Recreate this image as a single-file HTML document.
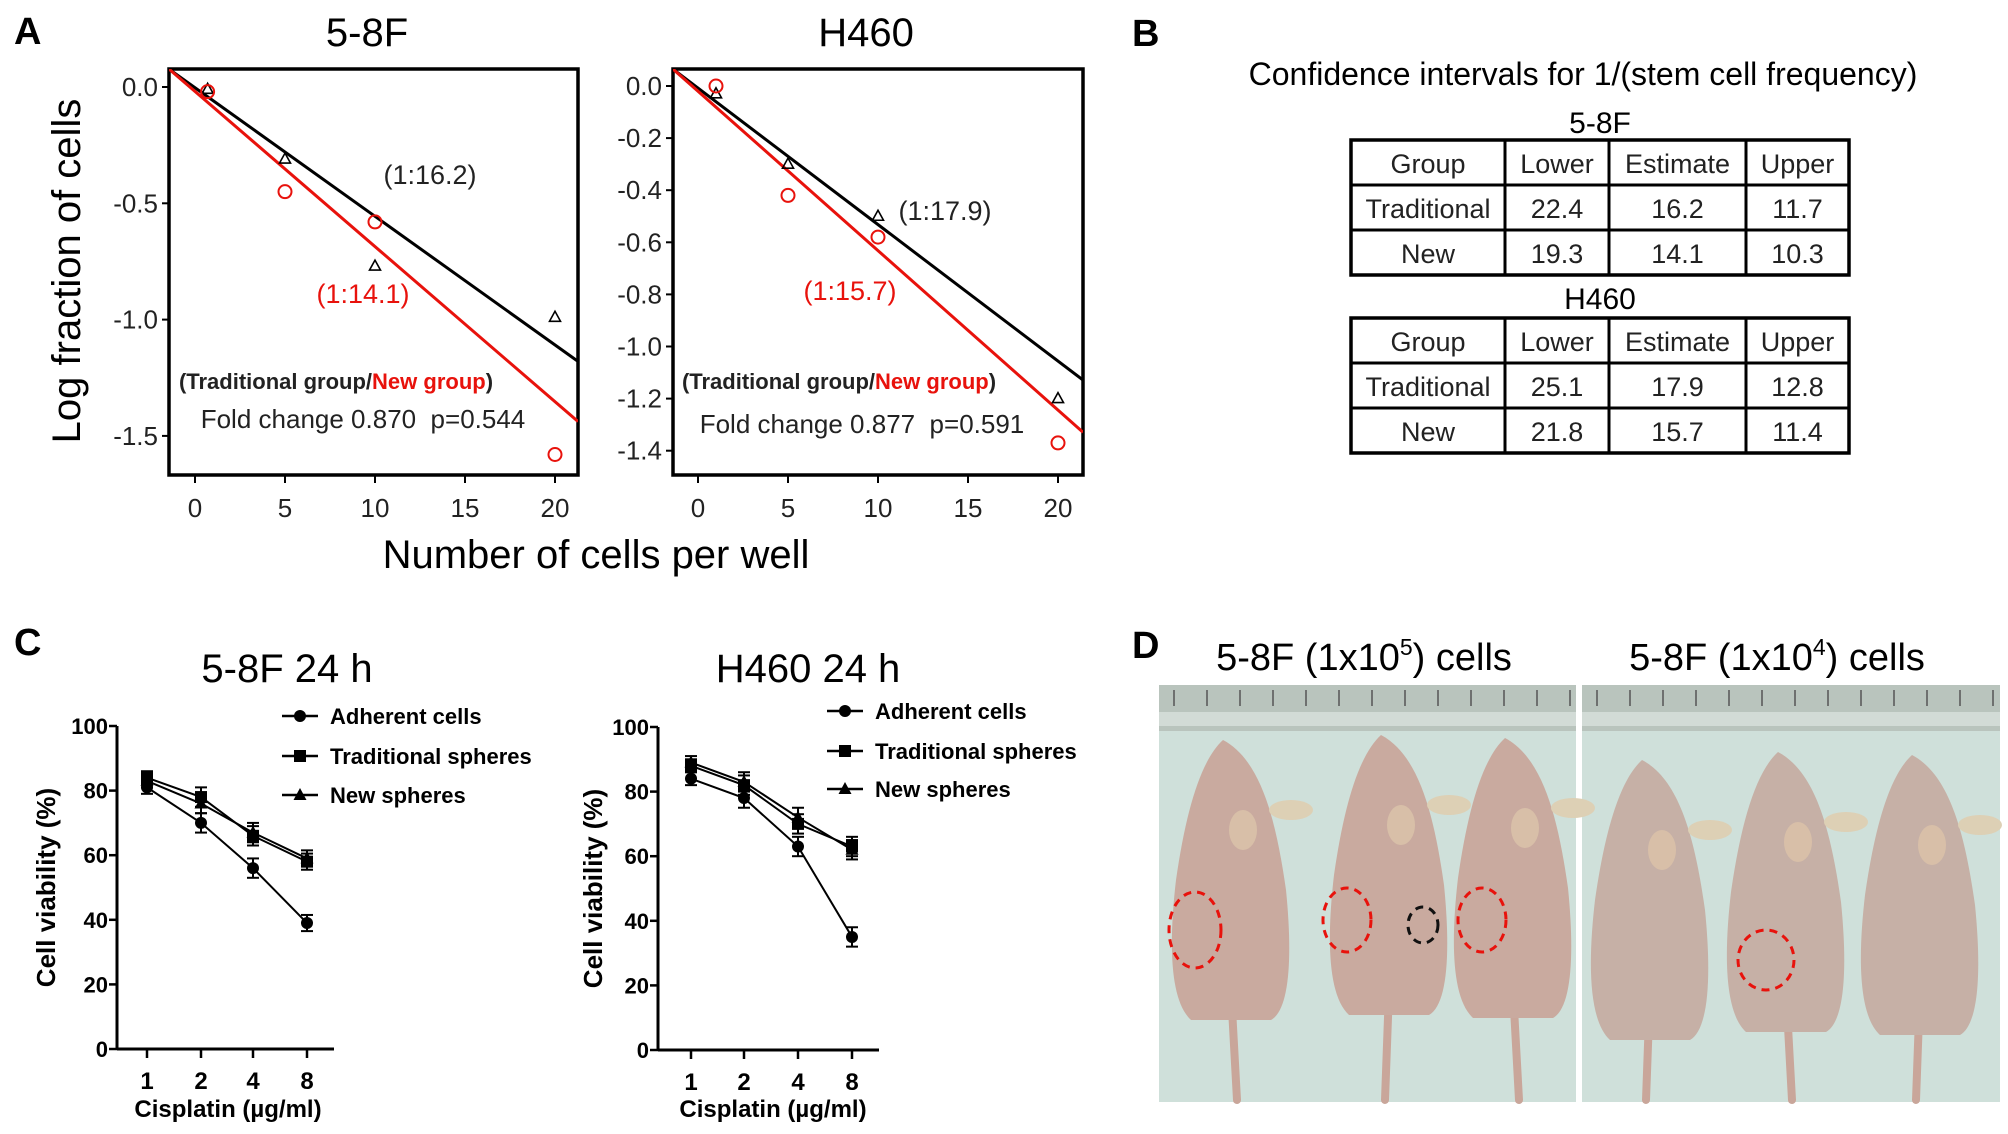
<!DOCTYPE html>
<html><head><meta charset="utf-8">
<style>
html,body{margin:0;padding:0;background:#fff;}
svg{display:block;font-family:"Liberation Sans",Arial,sans-serif;}
</style></head>
<body>
<svg id="fig" width="2008" height="1134" viewBox="0 0 2008 1134" xmlns="http://www.w3.org/2000/svg">
  <text x="14" y="44" font-size="38" font-weight="bold">A</text>
  <text x="1132" y="46" font-size="38" font-weight="bold">B</text>
  <text x="14" y="655" font-size="38" font-weight="bold">C</text>
  <text x="1132" y="658" font-size="38" font-weight="bold">D</text>

  <text x="367" y="46" font-size="40" text-anchor="middle">5-8F</text>
  <text x="866" y="46" font-size="40" text-anchor="middle">H460</text>
  <text transform="translate(80,271) rotate(-90)" font-size="40" text-anchor="middle">Log fraction of cells</text>
  <text x="596" y="568" font-size="40" text-anchor="middle">Number of cells per well</text>
  <g id="a1"></g>
  <g id="a2"></g>

  <text x="1583" y="85" font-size="32" text-anchor="middle">Confidence intervals for 1/(stem cell frequency)</text>
  <text x="1600" y="133" font-size="30" text-anchor="middle">5-8F</text>
  <text x="1600" y="309" font-size="30" text-anchor="middle">H460</text>
  <g id="tables"></g>

  <text x="287" y="682" font-size="40" text-anchor="middle">5-8F 24 h</text>
  <text x="808" y="682" font-size="40" text-anchor="middle">H460 24 h</text>
  <g id="c1"></g>
  <g id="c2"></g>

  <text x="1364" y="670" font-size="38" text-anchor="middle">5-8F (1x10<tspan font-size="23" dy="-15">5</tspan><tspan dy="15">) cells</tspan></text>
  <text x="1777" y="670" font-size="38" text-anchor="middle">5-8F (1x10<tspan font-size="23" dy="-15">4</tspan><tspan dy="15">) cells</tspan></text>
  <g id="photos"></g>
</svg>
<script>
const NS="http://www.w3.org/2000/svg";
function mk(parent,tag,attrs,txt){const e=document.createElementNS(NS,tag);for(const k in attrs)e.setAttribute(k,attrs[k]);if(txt!==undefined)e.textContent=txt;parent.appendChild(e);return e;}

/* ---------- Panel A data ---------- */
const aDoses=[0.7,5,10,20];
const a1Trad=[-0.01,-0.31,-0.77,-0.99];
const a1New=[-0.02,-0.45,-0.58,-1.58];
const a1TradFit=[-0.003,-0.0553];
const a1NewFit=[-0.019,-0.0667];
const a1YTicks=[0,-0.5,-1.0,-1.5];
const a1YLabels=["0.0","-0.5","-1.0","-1.5"];
const a2Doses=[1,5,10,20];
const a2Trad=[-0.03,-0.3,-0.5,-1.2];
const a2New=[0.0,-0.42,-0.58,-1.37];
const a2TradFit=[-0.008,-0.0524];
const a2NewFit=[-0.02,-0.0612];
const a2YTicks=[0,-0.2,-0.4,-0.6,-0.8,-1.0,-1.2,-1.4];
const a2YLabels=["0.0","-0.2","-0.4","-0.6","-0.8","-1.0","-1.2","-1.4"];
const aXTicks=[0,5,10,15,20];

function drawA(gid,box,x0px,x20px,y0px,yPerUnit,doses,trad,nw,tf,nf,yt,yl,ann){
  const g=document.getElementById(gid);
  const sx=v=>x0px+(x20px-x0px)*v/20;
  const sy=v=>y0px-yPerUnit*v;
  const xmin=(box.l-x0px)/((x20px-x0px)/20), xmax=(box.r-x0px)/((x20px-x0px)/20);
  const fr=mk(g,'rect',{x:box.l,y:box.t,width:box.r-box.l,height:box.b-box.t,fill:'none',stroke:'#000','stroke-width':3.5});
  
  
  const clip=mk(g,'clipPath',{id:gid+'clip'});mk(clip,'rect',{x:box.l,y:box.t,width:box.r-box.l,height:box.b-box.t});
  [[tf,'#000','fit-line-traditional'],[nf,'#e8120c','fit-line-new']].forEach(([f,c,n])=>{
    const l=mk(g,'line',{x1:sx(xmin),y1:sy(f[0]+f[1]*xmin),x2:sx(xmax),y2:sy(f[0]+f[1]*xmax),stroke:c,'stroke-width':3,'clip-path':'url(#'+gid+'clip)'});
    
    
  });
  yt.forEach((v,i)=>{
    mk(g,'line',{x1:box.l-7,y1:sy(v),x2:box.l,y2:sy(v),stroke:'#000','stroke-width':2});
    const t=mk(g,'text',{x:box.l-11,y:sy(v)+9,'font-size':26,'text-anchor':'end',fill:'#222'},yl[i]);
    
    
  });
  aXTicks.forEach(v=>{
    mk(g,'line',{x1:sx(v),y1:box.b,x2:sx(v),y2:box.b+8,stroke:'#000','stroke-width':2});
    const t=mk(g,'text',{x:sx(v),y:box.b+42,'font-size':26,'text-anchor':'middle',fill:'#222'},String(v));
    
    
  });
  doses.forEach((d,i)=>{
    const x=sx(d),y=sy(trad[i]);
    const p=mk(g,'polygon',{points:`${x},${y-6} ${x-5.5},${y+4} ${x+5.5},${y+4}`,fill:'none',stroke:'#000','stroke-width':1.6});
    
    
    const c=mk(g,'circle',{cx:sx(d),cy:sy(nw[i]),r:6.5,fill:'none',stroke:'#e8120c','stroke-width':2});
    
    
  });
  const a1=mk(g,'text',{x:ann[0][0],y:ann[0][1],'font-size':27,'text-anchor':'middle',fill:'#222'},ann[0][2]);
  
  
  const a2=mk(g,'text',{x:ann[1][0],y:ann[1][1],'font-size':27,'text-anchor':'middle',fill:'#e8120c'},ann[1][2]);
  
  
  const gl=mk(g,'text',{x:ann[2][0],y:ann[2][1],'font-size':22,'font-weight':'bold','text-anchor':'middle',fill:'#222'});
  
  
  mk(gl,'tspan',{},'(Traditional group/');mk(gl,'tspan',{fill:'#e8120c'},'New group');mk(gl,'tspan',{},')');
  const fc=mk(g,'text',{x:ann[3][0],y:ann[3][1],'font-size':26,'text-anchor':'middle',fill:'#222'},ann[3][2]);
  
  
}
drawA('a1',{l:169,t:69,r:578,b:475},195,555,87,232.6,aDoses,a1Trad,a1New,a1TradFit,a1NewFit,a1YTicks,a1YLabels,
  [[430,184,'(1:16.2)'],[363,303,'(1:14.1)'],[336,389,''],[363,428,'Fold change 0.870\u00a0\u00a0p=0.544']]);
drawA('a2',{l:673,t:69,r:1083,b:475},698,1058,86,260.5,a2Doses,a2Trad,a2New,a2TradFit,a2NewFit,a2YTicks,a2YLabels,
  [[945,220,'(1:17.9)'],[850,300,'(1:15.7)'],[839,389,''],[862,433,'Fold change 0.877\u00a0\u00a0p=0.591']]);

/* ---------- Panel B tables ---------- */
const tHeader=["Group","Lower","Estimate","Upper"];
const t1Rows=[["Traditional","22.4","16.2","11.7"],["New","19.3","14.1","10.3"]];
const t2Rows=[["Traditional","25.1","17.9","12.8"],["New","21.8","15.7","11.4"]];
function drawTable(top,rows,name){
  const g=document.getElementById('tables');
  const cols=[1351,1505,1609,1746,1849];
  const rh=45;
  const all=[tHeader].concat(rows);
  const tg=mk(g,'g',{});
  
  
  mk(tg,'rect',{x:cols[0],y:top,width:cols[4]-cols[0],height:rh*3,fill:'none',stroke:'#000','stroke-width':3.5});
  for(let i=1;i<4;i++)mk(tg,'line',{x1:cols[i],y1:top,x2:cols[i],y2:top+rh*3,stroke:'#000','stroke-width':3});
  for(let r=1;r<3;r++)mk(tg,'line',{x1:cols[0],y1:top+rh*r,x2:cols[4],y2:top+rh*r,stroke:'#000','stroke-width':3});
  all.forEach((row,r)=>row.forEach((c,j)=>{
    const t=mk(tg,'text',{x:(cols[j]+cols[j+1])/2,y:top+rh*r+33,'font-size':27,'text-anchor':'middle',fill:'#222'},c);
    
    
  }));
}
drawTable(140,t1Rows,'table-58f');
drawTable(318,t2Rows,'table-h460');

/* ---------- Panel C data ---------- */
const cDoses=["1","2","4","8"];
const c1Adherent=[81,70,56,39];
const c1Trad=[84,78,66,58];
const c1New=[83,76,67,59];
const c1Err=[2,3,3,2.5];
const c2Adherent=[84,78,63,35];
const c2Trad=[88,82,70,63];
const c2New=[89,83,72,62];
const c2Err=[2,3,3,3];
const cYTicks=[0,20,40,60,80,100];
const cSeriesNames=["Adherent cells","Traditional spheres","New spheres"];

function marker(g,type,x,y){
  let e;
  if(type===0)e=mk(g,'circle',{cx:x,cy:y,r:6,fill:'#000'});
  else if(type===1)e=mk(g,'rect',{x:x-6,y:y-6,width:12,height:12,fill:'#000'});
  else e=mk(g,'polygon',{points:`${x},${y-7} ${x-6.5},${y+5} ${x+6.5},${y+5}`,fill:'#000'});
  return e;
}
function drawC(gid,ax,xs,yTop,yBot,xEnd,series,err,legX,legY,xlabC,ylabX){
  const g=document.getElementById(gid);
  const sy=v=>yBot-(yBot-yTop)*v/100;
  mk(g,'line',{x1:ax,y1:yTop,x2:ax,y2:yBot,stroke:'#000','stroke-width':3});
  mk(g,'line',{x1:ax,y1:yBot,x2:xEnd,y2:yBot,stroke:'#000','stroke-width':3});
  cYTicks.forEach(v=>{
    mk(g,'line',{x1:ax-8,y1:sy(v),x2:ax,y2:sy(v),stroke:'#000','stroke-width':2.5});
    const t=mk(g,'text',{x:ax-9,y:sy(v)+8,'font-size':22,'font-weight':'bold','text-anchor':'end'},String(v));
    
    
  });
  cDoses.forEach((d,i)=>{
    mk(g,'line',{x1:xs[i],y1:yBot,x2:xs[i],y2:yBot+9,stroke:'#000','stroke-width':2.5});
    const t=mk(g,'text',{x:xs[i],y:yBot+40,'font-size':24,'font-weight':'bold','text-anchor':'middle'},d);
    
    
  });
  const xl=mk(g,'text',{x:xlabC,y:1117,'font-size':24,'font-weight':'bold','text-anchor':'middle'},'Cisplatin (µg/ml)');
  
  
  const yl=mk(g,'text',{transform:`translate(${ylabX},${(yTop+yBot)/2}) rotate(-90)`,'font-size':26,'font-weight':'bold','text-anchor':'middle'},'Cell viability (%)');
  
  
  series.forEach((s,k)=>{
    const pts=s.map((v,i)=>xs[i]+','+sy(v)).join(' ');
    const pl=mk(g,'polyline',{points:pts,fill:'none',stroke:'#000','stroke-width':2});
    
    
    s.forEach((v,i)=>{
      mk(g,'line',{x1:xs[i],y1:sy(v+err[i]),x2:xs[i],y2:sy(v-err[i]),stroke:'#000','stroke-width':2});
      mk(g,'line',{x1:xs[i]-6,y1:sy(v+err[i]),x2:xs[i]+6,y2:sy(v+err[i]),stroke:'#000','stroke-width':2});
      mk(g,'line',{x1:xs[i]-6,y1:sy(v-err[i]),x2:xs[i]+6,y2:sy(v-err[i]),stroke:'#000','stroke-width':2});
      const m=marker(g,k,xs[i],sy(v));
      
      
    });
    const y=legY[k];
    mk(g,'line',{x1:legX-18,y1:y,x2:legX+18,y2:y,stroke:'#000','stroke-width':2.5});
    marker(g,k,legX,y);
    const t=mk(g,'text',{x:legX+30,y:y+8,'font-size':22,'font-weight':'bold'},cSeriesNames[k]);
    
    
  });
}
drawC('c1',117,[147,201,253,307],726,1049,334,[c1Adherent,c1Trad,c1New],c1Err,300,[716,756,795],228,55);
drawC('c2',658,[691,744,798,852],727,1050,879,[c2Adherent,c2Trad,c2New],c2Err,845,[711,751,789],773,602);

/* ---------- Panel D photos (schematic) ---------- */
(function(){
  const g=document.getElementById('photos');
  const panels=[[1159,1576],[1582,2000]];
  panels.forEach((p,pi)=>{
    const pg=mk(g,'g',{});
    
    
    mk(pg,'rect',{x:p[0],y:685,width:p[1]-p[0],height:417,fill:'#cfe0da'});
    mk(pg,'rect',{x:p[0],y:685,width:p[1]-p[0],height:46,fill:'#b9c4bd'});
    mk(pg,'rect',{x:p[0],y:712,width:p[1]-p[0],height:14,fill:'#d2dbd6'});
    for(let x=p[0]+15;x<p[1];x+=33){mk(pg,'line',{x1:x,y1:690,x2:x,y2:706,stroke:'#555','stroke-width':1.5});}
  });
  const mice=[[1231,740],[1389,735],[1513,738],[1650,760],[1786,752],[1920,755]];
  mice.forEach((m,i)=>{
    const [cx,top]=m;
    const mg=mk(g,'g',{});
    
    
    mk(mg,'line',{x1:cx,y1:990,x2:cx+(i%2?-4:6),y2:1100,stroke:'#c9a69a','stroke-width':8,'stroke-linecap':'round'});
    mk(mg,'path',{d:`M${cx-8},${top} C${cx+30},${top+20} ${cx+45},${top+80} ${cx+55},${top+150} C${cx+62},${top+220} ${cx+58},${top+270} ${cx+40},${top+280} L${cx-40},${top+280} C${cx-62},${top+260} ${cx-62},${top+200} ${cx-55},${top+140} C${cx-45},${top+70} ${cx-30},${top+20} ${cx-8},${top} Z`,fill:i>=3?'#c6b0a6':'#c9aa9f'});
    mk(mg,'ellipse',{cx:cx+12,cy:top+90,rx:14,ry:20,fill:'#d8bfa8'});
    mk(mg,'ellipse',{cx:cx+60,cy:top+70,rx:22,ry:10,fill:'#ddd0b5'});
  });
  const circles=[[1195,930,26,38,'#e8120c'],[1347,920,24,32,'#e8120c'],[1423,925,15,18,'#111'],[1482,920,24,32,'#e8120c'],[1766,960,28,30,'#e8120c']];
  circles.forEach(c=>{
    const e=mk(g,'ellipse',{cx:c[0],cy:c[1],rx:c[2],ry:c[3],fill:'none',stroke:c[4],'stroke-width':3,'stroke-dasharray':'8 6'});
    
    
  });
})();
</script>
</body></html>
